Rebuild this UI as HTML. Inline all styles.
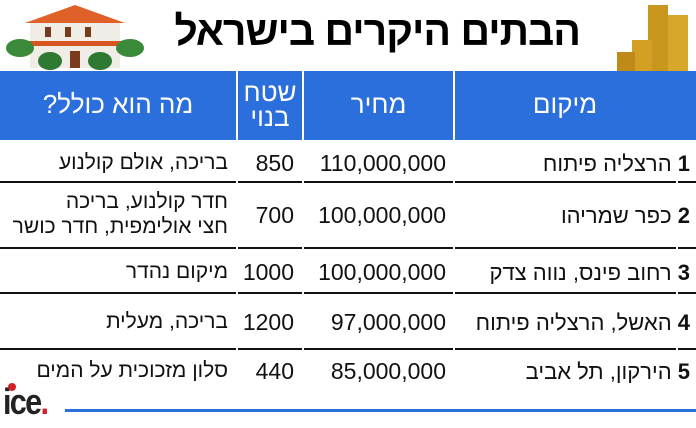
<!DOCTYPE html>
<html><head><meta charset="utf-8"><style>
body{margin:0;width:696px;height:428px;background:#fff;position:relative;overflow:hidden;font-family:"Liberation Sans","DejaVu Sans",sans-serif;}
.a{position:absolute;white-space:nowrap;}
.h{background:#2a6fdb;position:absolute;top:71px;height:69px;}
.ht{color:#fff;font-size:26px;text-align:center;line-height:25px;}
.ln{position:absolute;height:2px;background:#111;}
.t{font-size:22px;color:#111;direction:rtl;text-align:right;}
.c{font-size:21px;}
.n{font-size:23px;color:#111;text-align:right;}
</style></head><body>
<svg class="a" style="left:5px;top:3px" width="140" height="68">
<polygon points="20,20 70,2 120,20" fill="#e0602a"/>
<rect x="25" y="20" width="90" height="45" fill="#f0ede6"/>
<rect x="20" y="38" width="100" height="5" fill="#d9551f"/>
<rect x="40" y="24" width="6" height="10" fill="#7a3b1c"/><rect x="60" y="24" width="6" height="10" fill="#7a3b1c"/><rect x="80" y="24" width="6" height="10" fill="#7a3b1c"/>
<rect x="65" y="48" width="10" height="17" fill="#7a3b1c"/>
<ellipse cx="15" cy="45" rx="14" ry="9" fill="#3b8a3a"/><ellipse cx="125" cy="45" rx="14" ry="9" fill="#3b8a3a"/>
<ellipse cx="45" cy="58" rx="12" ry="9" fill="#2f7a33"/><ellipse cx="95" cy="58" rx="12" ry="9" fill="#2f7a33"/>
</svg>
<svg class="a" style="left:612px;top:0" width="84" height="88">
<rect x="36" y="5" width="20" height="70" fill="#c9971f"/><rect x="56" y="15" width="20" height="65" fill="#d8a62a"/>
<rect x="20" y="40" width="20" height="40" fill="#d4a024"/><rect x="5" y="52" width="18" height="30" fill="#c08a1a"/>
</svg>
<div class="a" style="left:175px;top:8px;width:405px;text-align:center;font-size:41px;font-weight:bold;direction:rtl;color:#000;letter-spacing:-1px">הבתים היקרים בישראל</div>
<div class="h" style="left:0;width:236px"></div>
<div class="h" style="left:238px;width:64px"></div>
<div class="h" style="left:304px;width:149px"></div>
<div class="h" style="left:455px;width:241px"></div>
<div class="a ht" style="left:0;width:236px;top:92px;direction:rtl">מה הוא כולל?</div>
<div class="a ht" style="left:238px;width:64px;top:80px;direction:rtl">שטח<br>בנוי</div>
<div class="a ht" style="left:304px;width:149px;top:92px">מחיר</div>
<div class="a ht" style="left:455px;width:220px;top:92px">מיקום</div>

<div class="a t" style="right:6px;top:151px"><b>1</b> הרצליה פיתוח</div>
<div class="a n" style="right:250px;top:150px">110,000,000</div>
<div class="a n" style="right:402px;top:150px">850</div>
<div class="a t c" style="right:468px;top:151px">בריכה, אולם קולנוע</div>

<div class="a t" style="right:6px;top:203px"><b>2</b> כפר שמריהו</div>
<div class="a n" style="right:250px;top:202px">100,000,000</div>
<div class="a n" style="right:402px;top:202px">700</div>
<div class="a t c" style="right:468px;top:189px;line-height:25px">חדר קולנוע, בריכה<br>חצי אולימפית, חדר כושר</div>

<div class="a t" style="right:6px;top:260px"><b>3</b> רחוב פינס, נווה צדק</div>
<div class="a n" style="right:250px;top:259px">100,000,000</div>
<div class="a n" style="right:402px;top:259px">1000</div>
<div class="a t c" style="right:468px;top:260px">מיקום נהדר</div>

<div class="a t" style="right:6px;top:310px"><b>4</b> האשל, הרצליה פיתוח</div>
<div class="a n" style="right:250px;top:309px">97,000,000</div>
<div class="a n" style="right:402px;top:309px">1200</div>
<div class="a t c" style="right:468px;top:310px">בריכה, מעלית</div>

<div class="a t" style="right:6px;top:359px"><b>5</b> הירקון, תל אביב</div>
<div class="a n" style="right:250px;top:358px">85,000,000</div>
<div class="a n" style="right:402px;top:358px">440</div>
<div class="a t c" style="right:468px;top:359px">סלון מזכוכית על המים</div>

<div class="ln" style="left:0;width:236px;top:181px"></div><div class="ln" style="left:238px;width:64px;top:181px"></div><div class="ln" style="left:304px;width:149px;top:181px"></div><div class="ln" style="left:455px;width:221px;top:181px"></div><div class="ln" style="left:678px;width:18px;top:181px"></div>
<div class="ln" style="left:0;width:236px;top:247px"></div><div class="ln" style="left:238px;width:64px;top:247px"></div><div class="ln" style="left:304px;width:149px;top:247px"></div><div class="ln" style="left:455px;width:221px;top:247px"></div><div class="ln" style="left:678px;width:18px;top:247px"></div>
<div class="ln" style="left:0;width:236px;top:292px"></div><div class="ln" style="left:238px;width:64px;top:292px"></div><div class="ln" style="left:304px;width:149px;top:292px"></div><div class="ln" style="left:455px;width:221px;top:292px"></div><div class="ln" style="left:678px;width:18px;top:292px"></div>
<div class="ln" style="left:0;width:236px;top:348px"></div><div class="ln" style="left:238px;width:64px;top:348px"></div><div class="ln" style="left:304px;width:149px;top:348px"></div><div class="ln" style="left:455px;width:221px;top:348px"></div><div class="ln" style="left:678px;width:18px;top:348px"></div>

<div class="a" style="left:3px;top:381px;font-size:36px;font-weight:bold;color:#222;letter-spacing:-2px;transform:scaleX(0.85);transform-origin:left">ice<span style="color:#d0202a">.</span></div>
<div class="a" style="left:8px;top:383px;width:8px;height:8px;border-radius:50%;background:#d0202a"></div>
<div class="a" style="left:65px;top:409px;width:631px;height:3px;background:#2a6fdb"></div>
</body></html>
